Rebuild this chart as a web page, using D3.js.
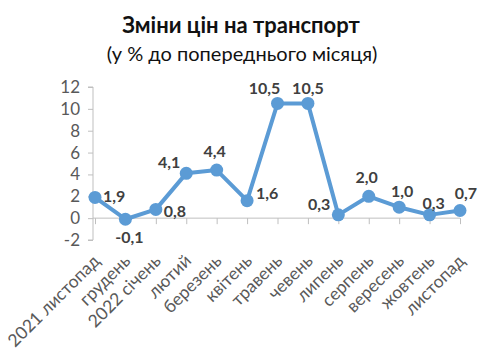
<!DOCTYPE html>
<html><head><meta charset="utf-8">
<script src="https://cdn.jsdelivr.net/npm/d3@7"></script>
<style>body{margin:0;background:#fff}svg{display:block}</style>
</head><body>
<svg id="c" width="480" height="356"></svg>
<script>
const categories = ["2021 листопад","грудень","2022 січень","лютий","березень","квітень","травень","чевень","липень","серпень","вересень","жовтень","листопад"];
const values = [1.9,-0.1,0.8,4.1,4.4,1.6,10.5,10.5,0.3,2.0,1.0,0.3,0.7];
const yTicks = [-2,0,2,4,6,8,10,12];
const title = "Зміни цін на транспорт";
const subtitle = "(у % до попереднього місяця)";

// label placement (layout only): [dx, dy, anchor]
const labelPlace = [[8,5,"start"],[4,24,"middle"],[8,8,"start"],[-6,-5,"end"],[-2,-13,"middle"],
  [9,-2,"start"],[-13,-9,"middle"],[0,-9,"middle"],[-8,-5,"end"],[-2,-13,"middle"],
  [3,-10,"middle"],[4,-6,"middle"],[6,-11,"middle"]];

const svg = d3.select("#c");
const font = "Lato, 'Open Sans', sans-serif";
const x = d3.scalePoint().domain(categories).range([95,460]);
const y = d3.scaleLinear().domain([-2,12]).range([240,87]);

svg.append("text").attr("x",241).attr("y",33).attr("text-anchor","middle")
  .attr("font-family",font).attr("font-weight","bold").attr("font-size",22).attr("fill","#111").text(title);
svg.append("text").attr("x",242).attr("y",61).attr("text-anchor","middle")
  .attr("font-family",font).attr("font-size",20).attr("fill","#111").text(subtitle);

// y axis
const ya = svg.append("g").attr("transform","translate(93,0)")
  .call(d3.axisLeft(y).tickValues(yTicks).tickSize(5).tickPadding(8).tickFormat(d => String(d)));
ya.select(".domain").attr("stroke","#bfbfbf").attr("d",`M-5,${y(-2)}H0V${y(12)}H-5`);
ya.selectAll(".tick line").attr("stroke","#bfbfbf");
ya.selectAll(".tick text").attr("font-family",font).attr("font-size",17).attr("fill","#595959");

// x axis at zero
const xa = svg.append("g").attr("transform",`translate(0,${y(0)})`)
  .call(d3.axisBottom(x).tickSize(6).tickFormat(""));
xa.select(".domain").attr("stroke","#bfbfbf").attr("d",`M93,0H460`);
xa.selectAll(".tick line").attr("stroke","#bfbfbf");

// x labels
svg.append("g").selectAll("text").data(categories).join("text")
  .attr("transform",d=>`translate(${x(d)+6},${262}) rotate(-45)`)
  .attr("text-anchor","end")
  .attr("font-family",font).attr("font-size",17.5).attr("fill","#595959").text(d=>d);

// line
const line = d3.line().x((d,i)=>x(categories[i])).y(d=>y(d));
svg.append("path").datum(values).attr("d",line).attr("fill","none")
  .attr("stroke","#5b9bd5").attr("stroke-width",4).attr("stroke-linejoin","round");
svg.append("g").selectAll("circle").data(values).join("circle")
  .attr("cx",(d,i)=>x(categories[i])).attr("cy",d=>y(d)).attr("r",6.5).attr("fill","#5b9bd5");

// value labels
const fmt = v => v.toFixed(1).replace(".",",");
svg.append("g").selectAll("text").data(values).join("text")
  .attr("font-family",font).attr("font-weight","bold").attr("font-size",16).attr("fill","#404040")
  .attr("x",(d,i)=>x(categories[i]) + labelPlace[i][0])
  .attr("y",(d,i)=>y(d) + labelPlace[i][1])
  .attr("text-anchor",(d,i)=>labelPlace[i][2])
  .text(fmt);
</script>
</body></html>
